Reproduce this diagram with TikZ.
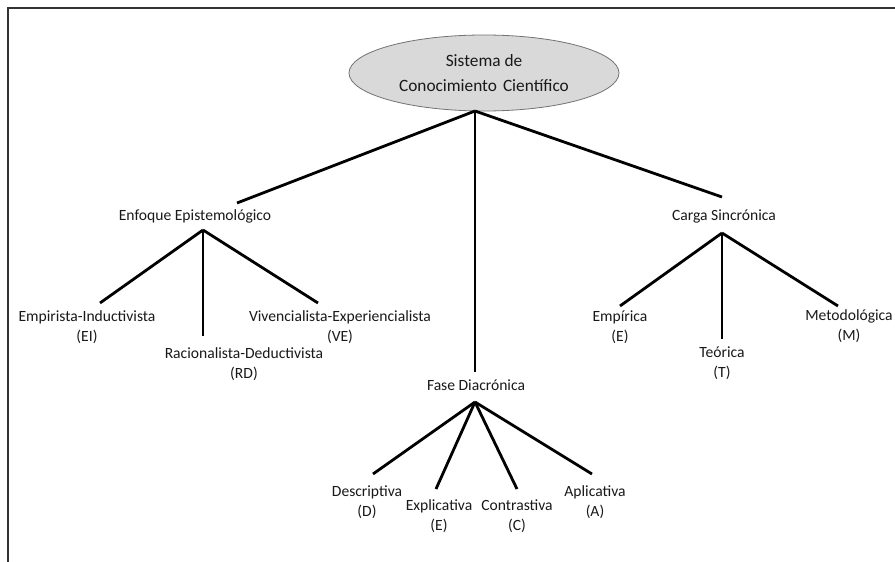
\documentclass[tikz,border=0pt]{standalone}
\usepackage{fontspec}
\setmainfont{Carlito}
\usetikzlibrary{shapes.geometric}
\begin{document}
\begin{tikzpicture}[x=1pt,y=-1pt,
  lbl/.style={align=center,inner sep=0pt,font=\fontsize{15.6}{20}\selectfont,text=black!90},
  conn/.style={line width=2.8pt,black},
  frameline/.style={line width=2.4pt,black!80},
  rootnode/.style={ellipse,draw=black!55,line width=0.8pt,fill=black!15,minimum width=270pt,minimum height=76pt,inner sep=0pt,align=center,font=\fontsize{17.3}{25}\selectfont,text=black!90}]
\useasboundingbox (0,0) rectangle (895,562);
\fill[white] (0,0) rectangle (895,562);
% frame (right and bottom edges lie outside the picture)
\coordinate (fTR) at (900,8);
\coordinate (fTL) at (8,8);
\coordinate (fBL) at (8,570);
\draw[frameline] (fTR) -- (fTL) -- (fBL);

% root
\node[rootnode] (root) at (484,73) {Sistema de\\Conocimiento\hspace{0.35em}Científico};

% labels
\node[lbl] (enf) at (195,216) {Enfoque Epistemológico};
\node[lbl] (carga) at (724,216) {Carga Sincrónica};
\node[lbl] (fase) at (476,385) {Fase Diacrónica};

\node[lbl] (ei) at (87,327) {Empirista-Inductivista\\(EI)};
\node[lbl] (rd) at (244,364) {Racionalista-Deductivista\\(RD)};
\node[lbl] (ve) at (340,327) {Vivencialista-Experiencialista\\(VE)};

\node[lbl] (emp) at (620,327) {Empírica\\(E)};
\node[lbl] (teo) at (722,363) {Teórica\\(T)};
\node[lbl] (met) at (849,326) {Metodológica\\(M)};

\node[lbl] (des) at (367,502) {Descriptiva\\(D)};
\node[lbl] (exp) at (439,516) {Explicativa\\(E)};
\node[lbl] (con) at (517,516) {Contrastiva\\(C)};
\node[lbl] (apl) at (595,502) {Aplicativa\\(A)};

% connector end points
\coordinate (rootJ) at (475,111);
\coordinate (enfTop) at (237,203);
\coordinate (cargaTop) at (722,197);
\coordinate (faseTop) at (475,372);

\coordinate (enfJ) at (203,230);
\coordinate (eiTop) at (100,303);
\coordinate (rdTop) at (203,336);
\coordinate (veTop) at (318,303);

\coordinate (cargaJ) at (722,233);
\coordinate (empTop) at (620,306);
\coordinate (teoTop) at (722,339);
\coordinate (metTop) at (838,306);

\coordinate (faseJ) at (475,402);
\coordinate (desTop) at (373,474);
\coordinate (expTop) at (436,489);
\coordinate (conTop) at (517,489);
\coordinate (aplTop) at (592,474);

% connectors
\draw[conn] (rootJ) -- (enfTop);
\draw[conn] (rootJ) -- (cargaTop);
\draw[conn] (rootJ) -- (faseTop);

\draw[conn] (enfJ) -- (eiTop);
\draw[conn] (enfJ) -- (rdTop);
\draw[conn] (enfJ) -- (veTop);

\draw[conn] (cargaJ) -- (empTop);
\draw[conn] (cargaJ) -- (teoTop);
\draw[conn] (cargaJ) -- (metTop);

\draw[conn] (faseJ) -- (desTop);
\draw[conn] (faseJ) -- (expTop);
\draw[conn] (faseJ) -- (conTop);
\draw[conn] (faseJ) -- (aplTop);
\end{tikzpicture}
\end{document}
